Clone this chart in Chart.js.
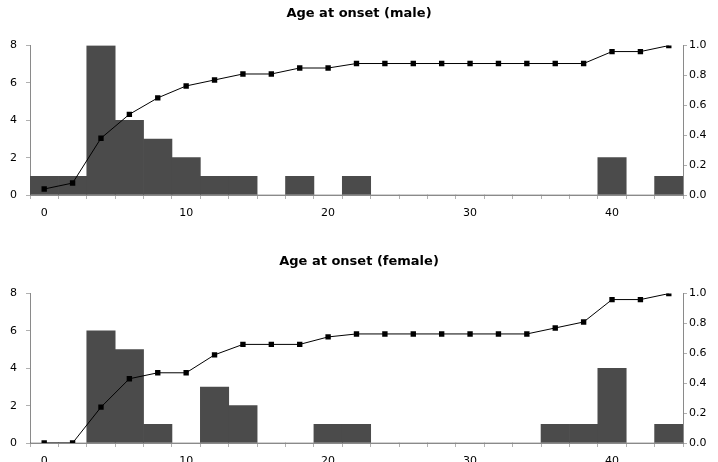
<!DOCTYPE html>
<html>
<head>
<meta charset="utf-8">
<script src="https://cdn.jsdelivr.net/npm/chart.js@4/dist/chart.umd.min.js"></script>
<style>
  html, body { margin: 0; padding: 0; background: #fff; overflow: hidden; width: 718px; height: 462px; }
  canvas { position: absolute; left: 0; }
  #male { top: 0; }
  #female { top: 248px; }
</style>
</head>
<body>
<canvas id="male" width="718" height="231"></canvas>
<canvas id="female" width="718" height="231"></canvas>
<script>
// Age bins (2-year steps) used as histogram categories
const ageBins = ['0','2','4','6','8','10','12','14','16','18','20','22','24','26','28','30','32','34','36','38','40','42','44'];

// Number of patients per age bin
const maleCounts   = [1,1,8,4,3,2,1,1,0,1,0,1,0,0,0,0,0,0,0,0,2,0,1];
const femaleCounts = [0,0,6,5,1,0,3,2,0,0,1,1,0,0,0,0,0,0,1,1,4,0,1];

// Cumulative proportion of patients at each age bin
const maleCumulative   = [0.04,0.08,0.38,0.54,0.65,0.73,0.77,0.81,0.81,0.85,0.85,0.88,0.88,0.88,0.88,0.88,0.88,0.88,0.88,0.88,0.96,0.96,1.00];
const femaleCumulative = [0.00,0.00,0.24,0.43,0.47,0.47,0.59,0.66,0.66,0.66,0.71,0.73,0.73,0.73,0.73,0.73,0.73,0.73,0.77,0.81,0.96,0.96,1.00];

// Axis tick values
const countTicks = [0,2,4,6,8];
const shownAgeTicks = ['0','10','20','30','40'];

const FONT = 'DejaVu Sans';
const axisColor = '#8a8a8a';

function makeChart(id, title, counts, cumulative) {
  return new Chart(document.getElementById(id), {
    data: {
      labels: ageBins,
      datasets: [
        {
          type: 'line',
          data: cumulative,
          yAxisID: 'y2',
          borderColor: '#000',
          borderWidth: 1,
          backgroundColor: '#000',
          pointStyle: 'rect',
          pointRadius: 3.8,
          pointBorderWidth: 0,
          tension: 0,
          order: 0
        },
        {
          type: 'bar',
          data: counts,
          yAxisID: 'y',
          backgroundColor: '#4b4b4b',
          borderWidth: 0,
          barPercentage: 1,
          categoryPercentage: 1,
          order: 1
        }
      ]
    },
    options: {
      responsive: false,
      animation: false,
      devicePixelRatio: 1,
      layout: { padding: 0 },
      plugins: {
        legend: { display: false },
        tooltip: { enabled: false },
        title: {
          display: true,
          text: title,
          color: '#000',
          font: { family: FONT, size: 13, weight: 'bold' },
          padding: { top: 6, bottom: 24 }
        }
      },
      scales: {
        x: {
          type: 'category',
          offset: true,
          afterFit: s => { s.height = 36; },
          grid: { offset: true, drawOnChartArea: false, drawTicks: true, tickLength: 4, color: '#b0b0b0' },
          border: { display: true, color: axisColor, dash: [1, 1] },
          ticks: {
            autoSkip: false,
            maxRotation: 0,
            padding: 8,
            color: '#000',
            font: { family: FONT, size: 11 },
            callback: (v, i) => shownAgeTicks.includes(ageBins[i]) ? ageBins[i] : ''
          }
        },
        y: {
          position: 'left',
          min: countTicks[0],
          max: countTicks[countTicks.length - 1],
          afterFit: s => { s.width = 30; },
          afterBuildTicks: s => { s.ticks = countTicks.map(v => ({ value: v })); },
          grid: { drawOnChartArea: false, tickLength: 4, color: '#b0b0b0' },
          border: { display: true, color: axisColor, dash: [1, 1] },
          ticks: { padding: 9, color: '#000', font: { family: FONT, size: 11 } }
        },
        y2: {
          position: 'right',
          min: 0,
          max: 1,
          afterFit: s => { s.width = 35; },
          grid: { drawOnChartArea: false, tickLength: 4, color: '#b0b0b0' },
          border: { display: true, color: axisColor, dash: [1, 1] },
          ticks: {
            stepSize: 0.2,
            padding: 2,
            color: '#000',
            font: { family: FONT, size: 11 },
            callback: v => Number(v).toFixed(1)
          }
        }
      }
    }
  });
}

makeChart('male', 'Age at onset (male)', maleCounts, maleCumulative);
makeChart('female', 'Age at onset (female)', femaleCounts, femaleCumulative);
</script>
</body>
</html>
